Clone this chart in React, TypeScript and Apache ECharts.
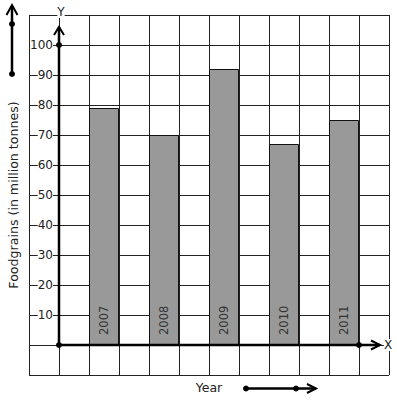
import React, { useEffect, useRef } from "react";
import * as echarts from "echarts";

const years = ["2007", "2008", "2009", "2010", "2011"];
const foodgrains = [79, 70, 92, 67, 75];
const yTickMax = 100;
const yTitle = "Foodgrains (in million tonnes)";
const xTitle = "Year";

const FONT = "DejaVu Sans";

export default function App() {
  const ref = useRef<HTMLDivElement>(null);
  useEffect(() => {
    document.body.style.margin = "0";
    if (!ref.current) return;
    const chart = echarts.init(ref.current, undefined, { renderer: "svg" });
    chart.setOption({
      animation: false,
      backgroundColor: "#fff",
      grid: {
        left: 29,
        top: 15,
        width: 360,
        height: 360,
        containLabel: false,
        outerBoundsMode: "none",
      },
      xAxis: {
        type: "value",
        min: -1,
        max: 11,
        interval: 1,
        axisLine: { show: false, onZero: false },
        axisTick: { show: false },
        axisLabel: { show: false },
        splitLine: { show: true, lineStyle: { color: "#222", width: 1 } },
      },
      yAxis: {
        type: "value",
        min: -10,
        max: 110,
        interval: 10,
        position: "left",
        offset: -30,
        axisLine: { show: false, onZero: false },
        axisTick: { show: false },
        axisLabel: {
          show: true,
          margin: 6,
          fontFamily: FONT,
          fontSize: 12,
          color: "#222",
          backgroundColor: "#fff",
          formatter: (v: number) => (v > 0 && v <= yTickMax ? String(v) : ""),
        },
        splitLine: { show: true, lineStyle: { color: "#222", width: 1 } },
      },
      series: [
        {
          type: "bar",
          barWidth: 30,
          data: years.map((y, i) => ({ name: y, value: [i * 2 + 1.5, foodgrains[i]] })),
          itemStyle: { color: "#999999", borderColor: "#111", borderWidth: 1 },
          label: {
            show: true,
            position: "insideBottom",
            distance: 10,
            rotate: 90,
            align: "left",
            verticalAlign: "middle",
            fontFamily: FONT,
            fontSize: 11.5,
            color: "#333",
            formatter: (p: any) => p.name,
          },
        },
      ],
    });

    const o = chart.convertToPixel({ gridIndex: 0 }, [0, 0]) as number[];
    const y100 = chart.convertToPixel({ gridIndex: 0 }, [0, yTickMax]) as number[];
    const yTip = chart.convertToPixel({ gridIndex: 0 }, [0, 106]) as number[];
    const xTip = chart.convertToPixel({ gridIndex: 0 }, [10.7, 0]) as number[];
    const x10 = chart.convertToPixel({ gridIndex: 0 }, [10, 0]) as number[];

    const stroke = { stroke: "#000", lineWidth: 2.5, fill: null };
    const chev = { stroke: "#000", lineWidth: 2, fill: null };
    const dot = (x: number, y: number) => ({
      type: "circle",
      z: 100,
      shape: { cx: x, cy: y, r: 3 },
      style: { fill: "#000" },
    });

    chart.setOption({
      graphic: [
        { type: "line", z: 100, shape: { x1: o[0], y1: o[1], x2: yTip[0], y2: yTip[1] }, style: stroke },
        {
          type: "polyline",
          z: 100,
          shape: { points: [[yTip[0] - 5, yTip[1] + 8], [yTip[0], yTip[1]], [yTip[0] + 5, yTip[1] + 8]] },
          style: chev,
        },
        { type: "line", z: 100, shape: { x1: o[0], y1: o[1], x2: xTip[0], y2: xTip[1] }, style: stroke },
        {
          type: "polyline",
          z: 100,
          shape: { points: [[xTip[0] - 9, xTip[1] - 4.5], [xTip[0], xTip[1]], [xTip[0] - 9, xTip[1] + 4.5]] },
          style: chev,
        },
        dot(o[0], o[1]),
        dot(y100[0], y100[1]),
        dot(x10[0], x10[1]),
        {
          type: "text",
          z: 100,
          x: o[0] + 2,
          y: 12,
          style: {
            text: "Y",
            fontFamily: FONT,
            fontSize: 12,
            fill: "#222",
            align: "center",
            verticalAlign: "middle",
            backgroundColor: "#fff",
          },
        },
        {
          type: "text",
          z: 100,
          x: 388,
          y: o[1],
          style: {
            text: "X",
            fontFamily: FONT,
            fontSize: 12,
            fill: "#222",
            align: "center",
            verticalAlign: "middle",
            backgroundColor: "#fff",
          },
        },
        {
          type: "text",
          z: 100,
          x: 13,
          y: 195,
          rotation: Math.PI / 2,
          style: {
            text: yTitle,
            fontFamily: FONT,
            fontSize: 12.6,
            fill: "#222",
            align: "center",
            verticalAlign: "middle",
          },
        },
        { type: "line", z: 100, shape: { x1: 12, y1: 74, x2: 12, y2: 6 }, style: stroke },
        { type: "polyline", z: 100, shape: { points: [[6.5, 15], [12, 5], [17.5, 15]] }, style: chev },
        dot(12, 24),
        dot(12, 74),
        {
          type: "text",
          z: 100,
          x: 209,
          y: 387,
          style: {
            text: xTitle,
            fontFamily: FONT,
            fontSize: 12.5,
            fill: "#222",
            align: "center",
            verticalAlign: "middle",
          },
        },
        { type: "line", z: 100, shape: { x1: 246, y1: 388.5, x2: 316, y2: 388.5 }, style: stroke },
        { type: "polyline", z: 100, shape: { points: [[307, 384], [316, 388.5], [307, 393]] }, style: chev },
        dot(246, 388.5),
        dot(296, 388.5),
      ],
    });

    return () => chart.dispose();
  }, []);
  return <div ref={ref} style={{ width: 397, height: 401 }} />;
}
